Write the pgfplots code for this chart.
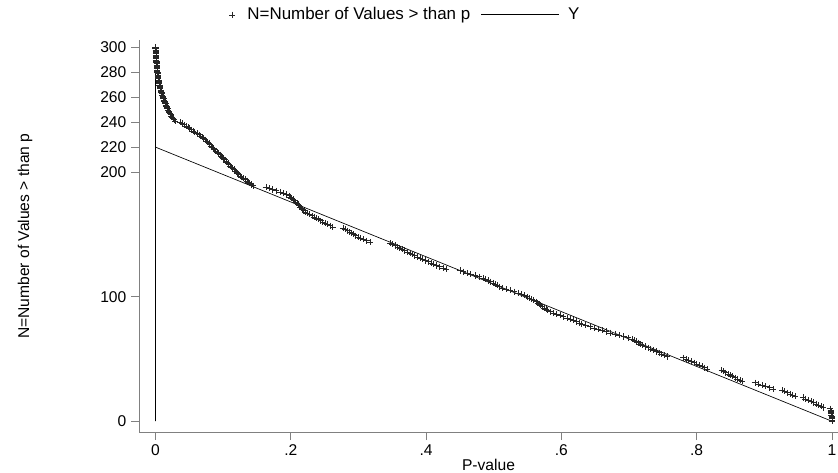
\documentclass[border=0pt]{standalone}
\usepackage{fontspec}
\setmainfont{Liberation Sans}
\usepackage{pgfplots}
\pgfplotsset{compat=1.18}

\begin{document}
\begin{tikzpicture}
\begin{axis}[
    scale only axis,
    width=524pt, height=294pt,
    xmin=-0.0244, xmax=1.009,
    ymin=-8.8, ymax=306,
    axis x line=bottom, axis y line=left,
    axis line style={-, draw=gray, line width=0.6pt},
    tick style={draw=gray, line width=0.6pt},
    tick align=outside, major tick length=6pt,
    xtick={0,0.2,0.4,0.6,0.8,1},
    xticklabels={0,.2,.4,.6,.8,1},
    ytick={0,100,200,220,240,260,280,300},
    /pgf/number format/assume math mode=true,
    tick label style={font=\fontsize{11.7}{13}\selectfont},
    label style={font=\fontsize{11.7}{13}\selectfont},
    xlabel={P-value},
    ylabel={N=Number of Values > than p},
    xlabel style={at={(rel axis cs:0.5,-0.084)}, anchor=center},
    ylabel style={at={(rel axis cs:-0.163,0.5)}, anchor=center},
    legend style={at={(rel axis cs:0.128,1.09)}, anchor=north west, draw=none,
        font=\fontsize{12.7}{14}\selectfont, inner sep=0pt},
    legend columns=2,
    legend cell align=left,
    /tikz/every even column/.append style={column sep=6pt},
    clip=false,
]
\addplot[only marks, mark=+, mark size=2.3pt, draw=black!85, line width=0.4pt,
    legend image code/.code={\path[draw=none] (0pt,0pt) -- (12pt,0pt);
        \draw[mark=+, mark size=2.3pt, line width=0.4pt] plot coordinates {(2.5pt,0pt)};}]
coordinates {
(0.000,300)(0.000,299)(0.0003,298)(0.0005,297)(0.0005,296)(0.0007,295)(0.001,294)(0.001,293)(0.001,292)(0.0011,291)
(0.0012,290)(0.0014,289)(0.0015,288)(0.0016,287)(0.0018,286)(0.002,285)(0.002,284)(0.0022,283)(0.0025,282)(0.0028,281)
(0.003,280)(0.0032,279)(0.0035,278)(0.0037,277)(0.004,276)(0.0042,275)(0.0045,274)(0.0048,273)(0.005,272)(0.0053,271)
(0.0058,270)(0.0063,269)(0.0068,268)(0.0072,267)(0.0078,266)(0.0083,265)(0.0088,264)(0.0094,263)(0.010,262)(0.0105,261)
(0.011,260)(0.0118,259)(0.0125,258)(0.0132,257)(0.014,256)(0.0147,255)(0.0155,254)(0.0162,253)(0.017,252)(0.0177,251)
(0.0185,250)(0.0195,249)(0.0205,248)(0.0215,247)(0.0225,246)(0.0235,245)(0.0245,244)(0.026,243)(0.0275,242)(0.029,241)
(0.036,240)(0.039,239)(0.042,238)(0.045,237)(0.048,236)
(0.050,235)(0.053,234)(0.056,233)(0.058,232)(0.061,231)(0.064,230)(0.066,229)(0.069,228)(0.071,227)
(0.073,226)(0.075,225)(0.077,224)(0.079,223)(0.080,222)(0.082,221)(0.084,220)(0.086,219)(0.087,218)
(0.089,217)(0.091,216)(0.093,215)(0.095,214)(0.097,213)(0.099,212)(0.100,211)(0.102,210)(0.104,209)(0.105,208)(0.107,207)(0.108,206)
(0.110,205)(0.112,204)(0.114,203)(0.116,202)(0.118,201)(0.120,200)(0.121,199)(0.123,198)(0.125,197)
(0.127,196)(0.130,195)(0.132,194)(0.135,193)(0.137,192)(0.139,191)(0.141,190)(0.144,189)
(0.163,188)(0.168,187)(0.173,186)(0.178,185)(0.184,184)(0.189,183)(0.194,182)
(0.197,181)(0.199,180)(0.201,179)(0.203,178)(0.205,177)(0.207,176)(0.209,175)(0.211,174)(0.212,173)(0.214,172)(0.216,171)(0.217,170)(0.219,169)(0.221,168)
(0.224,167)(0.228,166)(0.231,165)(0.234,164)(0.238,163)(0.241,162)(0.244,161)(0.247,160)(0.251,159)(0.254,158)(0.258,157)(0.262,156)
(0.277,155)(0.280,154)(0.284,153)(0.287,152)(0.290,151)(0.293,150)(0.296,149)(0.299,148)(0.303,147)(0.307,146)(0.312,145)(0.317,144)
(0.347,143)(0.350,142)(0.354,141)(0.358,140)(0.361,139)(0.365,138)(0.368,137)(0.372,136)(0.376,135)(0.379,134)
(0.383,133)(0.387,132)(0.391,131)(0.395,130)(0.399,129)(0.403,128)(0.407,127)(0.411,126)(0.415,125)(0.420,124)
(0.425,123)(0.430,122)
(0.450,121)(0.455,120)(0.461,119)(0.466,118)(0.472,117)(0.478,116)
(0.484,115)(0.488,114)(0.492,113)(0.495,112)(0.499,111)(0.502,110)(0.505,109)(0.508,108)
(0.512,107)(0.518,106)(0.524,105)(0.530,104)(0.536,103)(0.541,102)
(0.545,101)(0.549,100)(0.552,99)(0.556,98)(0.559,97)(0.563,96)
(0.565,95)(0.567,94)(0.569,93)(0.572,92)(0.574,91)(0.577,90)(0.579,89)
(0.583,88)(0.588,87)(0.593,86)(0.598,85)(0.603,84)(0.608,83)(0.613,82)(0.618,81)(0.622,80)(0.627,79)
(0.630,78)(0.636,77)(0.642,76)(0.648,75)(0.654,74)(0.660,73)(0.666,72)
(0.672,71)(0.679,70)(0.685,69)(0.692,68)(0.699,67)(0.705,66)
(0.708,65)(0.711,64)(0.714,63)(0.717,62)
(0.720,61)(0.724,60)(0.728,59)(0.732,58)(0.736,57)(0.740,56)(0.744,55)(0.748,54)(0.752,53)(0.756,52)
(0.780,51)(0.784,50)(0.788,49)(0.792,48)(0.796,47)(0.800,46)(0.804,45)(0.808,44)(0.812,43)(0.815,42)
(0.837,41)(0.840,40)(0.843,39)(0.847,38)(0.850,37)(0.853,36)(0.857,35)(0.860,34)(0.864,33)(0.867,32)
(0.886,31)(0.891,30)(0.897,29)(0.902,28)(0.908,27)(0.913,26)
(0.926,25)(0.930,24)(0.934,23)(0.938,22)(0.942,21)(0.946,20)
(0.957,19)(0.961,18)(0.965,17)(0.969,16)(0.973,15)(0.977,14)(0.980,13)(0.984,12)(0.987,11)
(0.997,10)(0.998,9)(0.998,8)(0.999,7)(0.999,6)(0.999,5)(1.0,4)(1.0,3)(1.0,2)(1.0,1)(1.0,0)
};
\addlegendentry{N=Number of Values > than p}
\addplot[black, line width=0.5pt, mark=none,
    legend image code/.code={\path[draw=none] (0pt,0pt) -- (63pt,0pt);
        \draw[black, line width=0.5pt] (0pt,0pt) -- (58pt,0pt);}]
coordinates {(0,0) (0,282) (0,220) (1,0)};
\addlegendentry{Y}
\coordinate (bbsw) at (rel axis cs:-0.1989,-0.102);
\coordinate (bbne) at (rel axis cs:1.0,1.102);
\end{axis}
\pgfresetboundingbox
\path[use as bounding box] (bbsw) rectangle (bbne);
\end{tikzpicture}
\end{document}
